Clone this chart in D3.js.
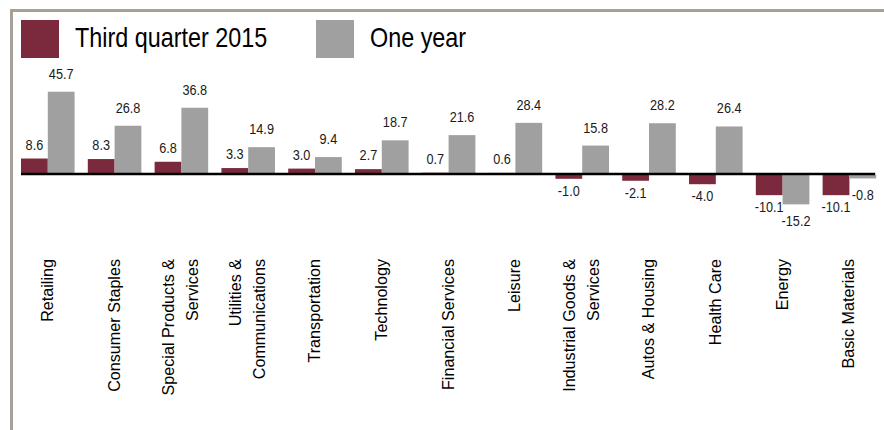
<!DOCTYPE html>
<html>
<head>
<meta charset="utf-8">
<script src="https://cdn.jsdelivr.net/npm/d3@7/dist/d3.min.js"></script>
<style>
  html, body { margin: 0; padding: 0; background: #ffffff; }
  svg { display: block; }
</style>
</head>
<body>
<svg id="chart" width="884" height="430"></svg>
<script>
// ---- data ----
const categories = ["Retailing", "Consumer Staples", "Special Products & Services", "Utilities & Communications",
  "Transportation", "Technology", "Financial Services", "Leisure", "Industrial Goods & Services",
  "Autos & Housing", "Health Care", "Energy", "Basic Materials"];
const categoryLines = [["Retailing"], ["Consumer Staples"], ["Special Products &", "Services"],
  ["Utilities &", "Communications"], ["Transportation"], ["Technology"], ["Financial Services"],
  ["Leisure"], ["Industrial Goods &", "Services"], ["Autos & Housing"], ["Health Care"], ["Energy"],
  ["Basic Materials"]];
const seriesNames = ["Third quarter 2015", "One year"];
const thirdQuarter = [8.6, 8.3, 6.8, 3.3, 3.0, 2.7, 0.7, 0.6, -1.0, -2.1, -4.0, -10.1, -10.1];
const oneYear = [45.7, 26.8, 36.8, 14.9, 9.4, 18.7, 21.6, 28.4, 15.8, 28.2, 26.4, -15.2, -0.8];

// ---- styles ----
const colors = ["#7b2a3d", "#a0a0a0"];
const font = "'Liberation Sans', Arial, sans-serif";
const squeeze = 0.82; // emulate a narrow face

const svg = d3.select("#chart");

// frame
svg.append("line").attr("x1", 10).attr("x2", 884).attr("y1", 10.5).attr("y2", 10.5)
  .attr("stroke", "#a89f97").attr("stroke-width", 3);
svg.append("line").attr("x1", 11.5).attr("x2", 11.5).attr("y1", 9).attr("y2", 430)
  .attr("stroke", "#a89f97").attr("stroke-width", 3);

// legend
const legendX = [21, 316];
seriesNames.forEach((name, i) => {
  svg.append("rect").attr("x", legendX[i]).attr("y", 20).attr("width", 38).attr("height", 38)
    .attr("fill", colors[i]);
  svg.append("text")
    .attr("transform", `translate(${legendX[i] + 54},47) scale(${squeeze},1)`)
    .attr("font-family", font).attr("font-size", 28.5).attr("fill", "#000")
    .text(name);
});

// scales
const x0 = d3.scaleBand().domain(categories).range([21, 876.2]).paddingInner(0.198).paddingOuter(0);
const x1 = d3.scaleBand().domain(seriesNames).range([0, x0.bandwidth()]).padding(0);
const y = d3.scaleLinear().domain([-20, 50]).range([210, 84]);

const rows = categories.map((c, i) => ({ cat: c, vals: [thirdQuarter[i], oneYear[i]] }));

const groups = svg.append("g").selectAll("g").data(rows).join("g")
  .attr("transform", d => `translate(${x0(d.cat)},0)`);

groups.selectAll("rect").data(d => d.vals.map((v, k) => ({ v, k })))
  .join("rect")
  .attr("x", d => x1(seriesNames[d.k]))
  .attr("width", x1.bandwidth())
  .attr("y", d => d.v >= 0 ? y(d.v) : y(0) + 1)
  .attr("height", d => d.v >= 0 ? y(0) - y(d.v) : y(d.v) - y(0) + 2)
  .attr("fill", d => colors[d.k]);

// value labels
const posOffset = [9, 13];
const negOffset = [20, 25];
groups.selectAll("text.val").data(d => d.vals.map((v, k) => ({ v, k })))
  .join("text").attr("class", "val")
  .attr("transform", d => {
    const tx = x1(seriesNames[d.k]) + x1.bandwidth() / 2;
    const ty = d.v >= 0 ? y(d.v) - posOffset[d.k] : y(d.v) + negOffset[d.k];
    return `translate(${tx},${ty}) scale(${squeeze},1)`;
  })
  .attr("text-anchor", "middle")
  .attr("font-family", font).attr("font-size", 15.5).attr("fill", "#1a1a1a")
  .text(d => d.v.toFixed(1));

// zero axis line
svg.append("line").attr("x1", x0.range()[0]).attr("x2", x0.range()[1] - 1)
  .attr("y1", y(0)).attr("y2", y(0)).attr("stroke", "#000").attr("stroke-width", 2.6);

// category labels (rotated)
const lineH = 24;
groups.each(function(d, i) {
  const lines = categoryLines[i];
  const cx = x0.bandwidth() / 2;
  const n = lines.length;
  lines.forEach((ln, j) => {
    const bx = cx + 5 + (j - (n - 1) / 2) * lineH;
    d3.select(this).append("text")
      .attr("transform", `translate(${bx},259) rotate(-90) scale(0.95,1)`)
      .attr("text-anchor", "end")
      .attr("font-family", font).attr("font-size", 17).attr("fill", "#000")
      .text(ln);
  });
});
</script>
</body>
</html>
